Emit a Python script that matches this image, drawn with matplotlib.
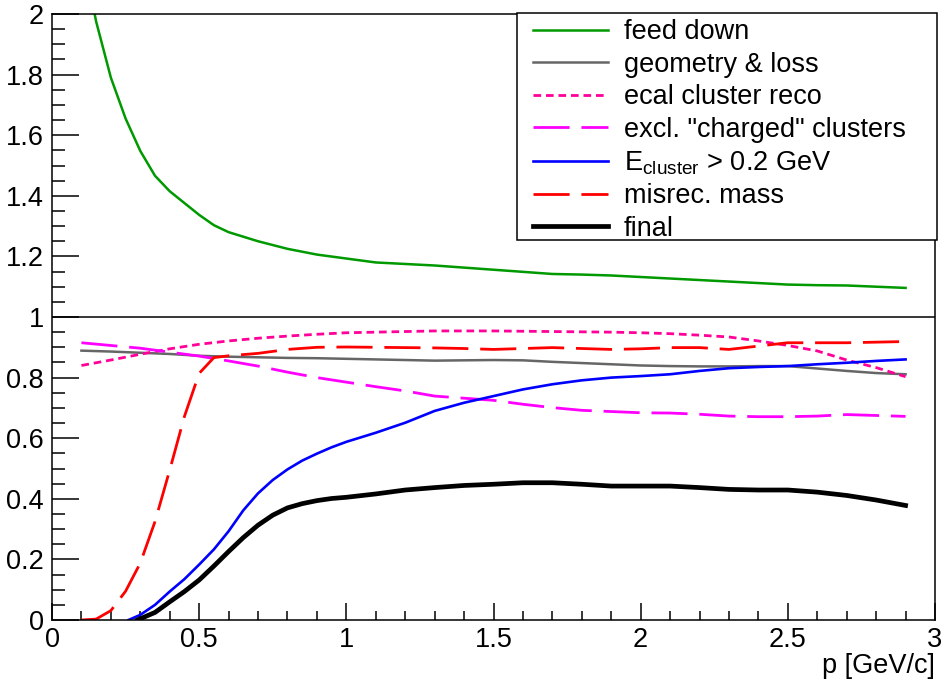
import matplotlib
matplotlib.use("Agg")
import matplotlib.pyplot as plt
from matplotlib.ticker import MultipleLocator
from matplotlib.patches import Rectangle

plt.rcParams['font.family'] = ['Liberation Sans', 'DejaVu Sans']
plt.rcParams['mathtext.fontset'] = 'custom'
plt.rcParams['mathtext.rm'] = 'Liberation Sans'
plt.rcParams['mathtext.it'] = 'Liberation Sans:italic'
plt.rcParams['lines.scale_dashes'] = False

# ---- data ----
p = [0.1, 0.2, 0.3, 0.4, 0.5, 0.6, 0.7, 0.8, 0.9, 1.0,
     1.1, 1.2, 1.3, 1.4, 1.5, 1.6, 1.7, 1.8, 1.9, 2.0,
     2.1, 2.2, 2.3, 2.4, 2.5, 2.6, 2.7, 2.8, 2.9]

p_feed = [0.1, 0.15, 0.2, 0.25, 0.3, 0.35, 0.4, 0.45, 0.5, 0.55, 0.6, 0.7, 0.8, 0.9, 1.0,
          1.1, 1.2, 1.3, 1.4, 1.5, 1.6, 1.7, 1.8, 1.9, 2.0,
          2.1, 2.2, 2.3, 2.4, 2.5, 2.6, 2.7, 2.8, 2.9]
feed_down = [2.22, 1.975, 1.79, 1.655, 1.548, 1.466, 1.415, 1.376, 1.337, 1.303, 1.280,
             1.250, 1.225, 1.206, 1.193,
             1.180, 1.175, 1.170, 1.163, 1.156, 1.149, 1.142, 1.140, 1.137, 1.132,
             1.127, 1.122, 1.117, 1.112, 1.107, 1.105, 1.104, 1.100, 1.096]

geometry_loss = [0.889, 0.886, 0.882, 0.878, 0.872, 0.869, 0.867, 0.865, 0.864, 0.862,
                 0.860, 0.858, 0.856, 0.857, 0.858, 0.857, 0.852, 0.848, 0.844, 0.840,
                 0.838, 0.837, 0.837, 0.838, 0.838, 0.830, 0.822, 0.815, 0.811]

ecal_reco = [0.840, 0.858, 0.877, 0.895, 0.910, 0.921, 0.930, 0.937, 0.943, 0.948,
             0.950, 0.952, 0.954, 0.954, 0.954, 0.953, 0.952, 0.951, 0.950, 0.948,
             0.945, 0.940, 0.934, 0.921, 0.906, 0.888, 0.858, 0.833, 0.803]

excl_charged = [0.915, 0.906, 0.897, 0.884, 0.871, 0.855, 0.838, 0.818, 0.800, 0.785,
                0.770, 0.756, 0.739, 0.732, 0.725, 0.712, 0.701, 0.692, 0.688, 0.684,
                0.683, 0.679, 0.673, 0.671, 0.671, 0.673, 0.678, 0.675, 0.672]

p_ecut = [0.26, 0.3, 0.35, 0.4, 0.45, 0.5, 0.55, 0.6, 0.65, 0.7, 0.75, 0.8, 0.85, 0.9, 0.95, 1.0,
          1.1, 1.2, 1.3, 1.4, 1.5, 1.6, 1.7, 1.8, 1.9, 2.0,
          2.1, 2.2, 2.3, 2.4, 2.5, 2.6, 2.7, 2.8, 2.9]
e_cut = [0.0, 0.017, 0.050, 0.094, 0.135, 0.183, 0.233, 0.293, 0.362, 0.418, 0.462, 0.497,
         0.526, 0.549, 0.570, 0.588,
         0.618, 0.651, 0.690, 0.717, 0.739, 0.761, 0.778, 0.791, 0.800, 0.805,
         0.811, 0.822, 0.831, 0.835, 0.838, 0.844, 0.849, 0.855, 0.860]

p_mass = [0.1, 0.15, 0.2, 0.25, 0.3, 0.35, 0.4, 0.45, 0.5, 0.55, 0.6, 0.7, 0.8, 0.9, 1.0,
          1.1, 1.2, 1.3, 1.4, 1.5, 1.6, 1.7, 1.8, 1.9, 2.0,
          2.1, 2.2, 2.3, 2.4, 2.5, 2.6, 2.7, 2.8, 2.9]
misrec_mass = [0.0, 0.003, 0.031, 0.095, 0.188, 0.325, 0.495, 0.672, 0.814, 0.866, 0.872, 0.880,
               0.893, 0.900, 0.901, 0.900, 0.899, 0.898, 0.896, 0.893, 0.896, 0.899, 0.896, 0.893,
               0.895, 0.899, 0.899, 0.893, 0.904, 0.915, 0.915, 0.915, 0.917, 0.919]

p_final = [0.29, 0.35, 0.4, 0.45, 0.5, 0.55, 0.6, 0.65, 0.7, 0.75, 0.8, 0.85, 0.9, 0.95, 1.0,
           1.1, 1.2, 1.3, 1.4, 1.5, 1.6, 1.7, 1.8, 1.9, 2.0,
           2.1, 2.2, 2.3, 2.4, 2.5, 2.6, 2.7, 2.8, 2.9]
final = [0.0, 0.025, 0.060, 0.094, 0.132, 0.178, 0.226, 0.272, 0.313, 0.346, 0.370, 0.384,
         0.394, 0.401, 0.405,
         0.416, 0.429, 0.437, 0.444, 0.448, 0.453, 0.453, 0.448, 0.442, 0.442,
         0.442, 0.437, 0.431, 0.429, 0.429, 0.422, 0.411, 0.396, 0.378]

labels = ['feed down', 'geometry & loss', 'ecal cluster reco',
          'excl. "charged" clusters', r'E$_{\mathrm{cluster}}$ > 0.2 GeV',
          'misrec. mass', 'final']
x_ticks = [0, 0.5, 1, 1.5, 2, 2.5, 3]
x_ticklabels = ['0', '0.5', '1', '1.5', '2', '2.5', '3']
y_ticks = [0, 0.2, 0.4, 0.6, 0.8, 1, 1.2, 1.4, 1.6, 1.8, 2]
y_ticklabels = ['0', '0.2', '0.4', '0.6', '0.8', '1', '1.2', '1.4', '1.6', '1.8', '2']

# ---- figure ----
W, H = 943, 679
FS = 19.5
fig = plt.figure(figsize=(W / 100, H / 100), dpi=100)
ax = fig.add_axes([52 / W, (H - 620) / H, 883 / W, 606 / H])

ax.plot(p_feed, feed_down, color='#009900', lw=1.8, label=labels[0])
ax.plot(p, geometry_loss, color='#666666', lw=1.8, label=labels[1])
ax.plot(p, ecal_reco, color='#ff0099', lw=2.0, dashes=(5.5, 3.5), label=labels[2])
ax.plot(p, excl_charged, color='#ff00ff', lw=2.0, dashes=(26, 8.5), label=labels[3])
ax.plot(p_ecut, e_cut, color='#0000ff', lw=1.9, label=labels[4])
ax.plot(p_mass, misrec_mass, color='#ff0000', lw=2.0, dashes=(26, 8.5), label=labels[5])
ax.plot(p_final, final, color='black', lw=3.4, label=labels[6])

ax.axhline(1.0, color='black', lw=1.1, zorder=1)

ax.set_xlim(0, 3)
ax.set_ylim(0, 2)
ax.set_xticks(x_ticks)
ax.set_xticklabels(x_ticklabels)
ax.set_yticks(y_ticks)
ax.set_yticklabels(y_ticklabels)
ax.xaxis.set_minor_locator(MultipleLocator(0.1))
ax.yaxis.set_minor_locator(MultipleLocator(0.05))
ax.tick_params(axis='both', which='both', direction='in', width=1.1, labelsize=FS,
               top=False, right=False, colors='black')
ax.tick_params(axis='x', which='major', length=12.5, pad=5)
ax.tick_params(axis='x', which='minor', length=6.5)
ax.tick_params(axis='y', which='major', length=19.5, pad=6)
ax.tick_params(axis='y', which='minor', length=9.5)
for s in ax.spines.values():
    s.set_linewidth(1.1)

ax.set_xlabel('p [GeV/c]', loc='right', fontsize=FS, labelpad=0)

# legend frame (ROOT-style box, slightly wider than its entries)
frame = Rectangle((0.5266, 0.627), 0.4757, 0.3747, transform=ax.transAxes,
                  facecolor='white', edgecolor='black', lw=1.1, clip_on=False, zorder=4.9)
ax.add_patch(frame)
leg = ax.legend(loc='upper left', bbox_to_anchor=(0.5402, 0.0, 0.46, 0.998),
                mode='expand', borderaxespad=0,
                fontsize=FS, frameon=False, handlelength=2.75, handletextpad=0.6,
                labelspacing=0.24, borderpad=0.15)
leg.set_zorder(5)

fig.savefig('out.png', dpi=100)
